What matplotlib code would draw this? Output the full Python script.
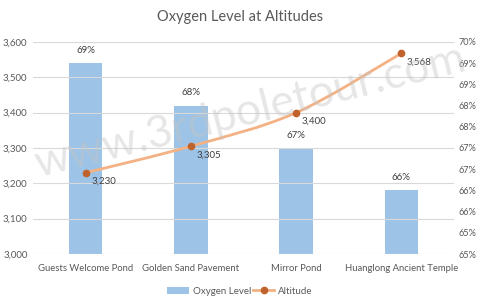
import math

import matplotlib
matplotlib.use("Agg")
import matplotlib.pyplot as plt
from matplotlib.lines import Line2D
from matplotlib.patches import Patch, PathPatch
from matplotlib.path import Path
from matplotlib.ticker import FuncFormatter, MultipleLocator

plt.rcParams["font.family"] = ["Lato", "DejaVu Sans"]

places = ["Guests Welcome Pond", "Golden Sand Pavement", "Mirror Pond", "Huanglong Ancient Temple"]
oxygen = [69, 68, 67, 66]          # percent
altitude = [3230, 3305, 3400, 3568]  # metres

BAR = "#9dc3e6"
LINE = "#f4b183"
MARK = "#c0622b"
TXT = "#595959"
GRID = "#d9d9d9"


def smooth_path(xs, ys):
    # excel style smoothed line: cubic bezier through each point
    pts = list(zip(xs, ys))
    n = len(pts)
    verts = [pts[0]]
    codes = [Path.MOVETO]
    for i in range(n - 1):
        p0 = pts[max(i - 1, 0)]
        p1 = pts[i]
        p2 = pts[i + 1]
        p3 = pts[min(i + 2, n - 1)]
        c1 = (p1[0] + (p2[0] - p0[0]) / 6, p1[1] + (p2[1] - p0[1]) / 6)
        c2 = (p2[0] - (p3[0] - p1[0]) / 6, p2[1] - (p3[1] - p1[1]) / 6)
        verts += [c1, c2, p2]
        codes += [Path.CURVE4] * 3
    return Path(verts, codes)


fig = plt.figure(figsize=(4.8, 3.0), dpi=100)
ax = fig.add_axes([33 / 480, 46 / 300, 421 / 480, 212 / 300])
ax2 = ax.twinx()

x = list(range(len(places)))

# bars on secondary axis, line on primary -> draw line on top
ax2.bar(x, oxygen, width=0.32, color=BAR, zorder=2)
ax2.set_ylim(64.5, 69.5)
ax2.yaxis.set_major_locator(MultipleLocator(0.5))
ax2.yaxis.set_major_formatter(FuncFormatter(lambda v, p: f"{math.floor(v + 0.5 + 1e-9)}%"))
for xi, v in zip(x, oxygen):
    ax2.annotate(f"{v}%", (xi, v), xytext=(0, 6), textcoords="offset points",
                 ha="center", va="bottom", fontsize=7, color="#404040")

ax.set_ylim(3000, 3600)
ax.yaxis.set_major_locator(MultipleLocator(100))
ax.yaxis.set_major_formatter(FuncFormatter(lambda v, p: f"{int(v):,}"))
ax.set_xlim(-0.5, len(places) - 0.5)
ax.set_xticks(x)
ax.set_xticklabels(places)
ax.grid(axis="y", color=GRID, linewidth=0.8)
ax.set_axisbelow(True)

ax.set_zorder(ax2.get_zorder() + 1)
ax.patch.set_visible(False)
ax.add_patch(PathPatch(smooth_path(x, altitude), facecolor="none", edgecolor=LINE,
                       linewidth=2, zorder=3))
ax.plot(x, altitude, linestyle="none", marker="o", markersize=4.5,
        markerfacecolor=MARK, markeredgecolor=MARK, zorder=4)
for xi, v in zip(x, altitude):
    ax.annotate(f"{v:,}", (xi, v), xytext=(4, -3), textcoords="offset points",
                ha="left", va="top", fontsize=7, color="#404040")

for a in (ax, ax2):
    for s in a.spines.values():
        s.set_visible(False)
    a.tick_params(length=0, labelsize=7, colors=TXT, pad=4)
ax2.tick_params(labelsize=6.6, pad=3)
ax.tick_params(axis="x", pad=7, labelsize=6.8)

fig.text(0.5, 1 - 17 / 300, "Oxygen Level at Altitudes", ha="center", va="center",
         fontsize=10.5, color=TXT)

# watermark, drawn over the plot
fig.text(250 / 480, 1 - 112 / 300, "www.3rdpoletour.com", ha="center", va="center",
         rotation=14, rotation_mode="anchor", fontsize=32, fontweight="normal",
         color="#c4c4c4", alpha=0.42, zorder=10)

handles = [Patch(facecolor=BAR, edgecolor="none"),
           Line2D([], [], color=LINE, linewidth=2, marker="o", markersize=4.5,
                  markerfacecolor=MARK, markeredgecolor=MARK)]
fig.legend(handles, ["Oxygen Level", "Altitude"], loc="center", bbox_to_anchor=(0.5, 1 - 291 / 300),
           ncol=2, frameon=False, fontsize=7, labelcolor=TXT, handlelength=2.2,
           handletextpad=0.4, columnspacing=0.2)

fig.savefig("out.png", dpi=100)
